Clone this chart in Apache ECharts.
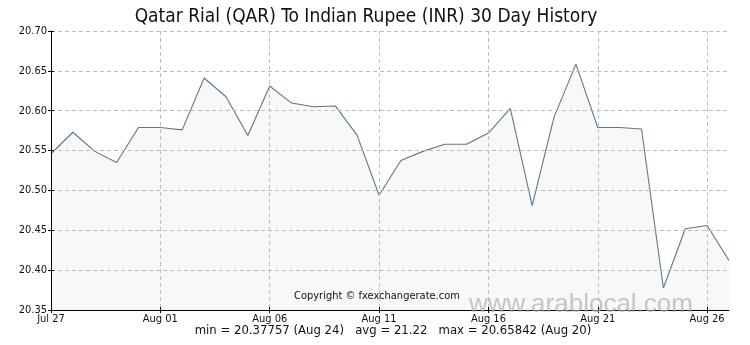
<!DOCTYPE html>
<html>
<head>
<meta charset="utf-8">
<script src="https://cdn.jsdelivr.net/npm/echarts@6/dist/echarts.min.js"></script>
<style>
  html, body { margin: 0; padding: 0; background: #ffffff; }
  #chart { width: 750px; height: 345px; }
</style>
</head>
<body>
<div id="chart"></div>
<script>
// Daily QAR -> INR rate, Jul 27 to Aug 27
const dates = [
  'Jul27','Jul28','Jul29','Jul30','Jul31',
  'Aug01','Aug02','Aug03','Aug04','Aug05',
  'Aug06','Aug07','Aug08','Aug09','Aug10',
  'Aug11','Aug12','Aug13','Aug14','Aug15',
  'Aug16','Aug17','Aug18','Aug19','Aug20',
  'Aug21','Aug22','Aug23','Aug24','Aug25',
  'Aug26','Aug27'
];
const rates = [
  20.546, 20.573, 20.549, 20.535, 20.579,
  20.579, 20.576, 20.641, 20.6175, 20.569,
  20.631, 20.6096, 20.605, 20.606, 20.569,
  20.494, 20.5375, 20.549, 20.558, 20.558,
  20.572, 20.603, 20.481, 20.592, 20.65842,
  20.579, 20.579, 20.577, 20.37757, 20.452,
  20.456, 20.412
];
// x labels shown every 5 days, written as on the axis
const xTickLabels = ['Jul 27','Aug 01','Aug 06','Aug 11','Aug 16','Aug 21','Aug 26'];

const titleText = 'Qatar Rial (QAR) To Indian Rupee (INR) 30 Day History';
const statsText = 'min = 20.37757 (Aug 24)   avg = 21.22   max = 20.65842 (Aug 20)';
const copyrightText = 'Copyright \u00A9 fxexchangerate.com';
const watermarkText = 'www.arablocal.com';

const yMin = 20.35, yMax = 20.70, yStep = 0.05;
const narrow = '"DejaVu Sans Condensed", "Liberation Sans Narrow", Arial, sans-serif';

const chart = echarts.init(document.getElementById('chart'), null, { renderer: 'canvas' });

const gridDash = { color: '#bdbdbd', type: [4, 3], width: 1 };

const baseX = {
  type: 'category',
  data: dates,
  boundaryGap: false
};
const baseY = {
  type: 'value',
  min: yMin,
  max: yMax,
  interval: yStep
};

chart.setOption({
  animation: false,
  backgroundColor: '#ffffff',
  title: {
    text: titleText,
    left: 361,
    top: 3,
    textAlign: 'center',
    textStyle: { fontFamily: narrow, fontSize: 19, fontWeight: 'normal', color: '#111' }
  },
  grid: { left: 51, right: 21, top: 31, bottom: 35, containLabel: false },
  xAxis: [
    Object.assign({}, baseX, {
      z: 5,
      axisLine: { show: true, lineStyle: { color: '#000', width: 1 } },
      axisTick: { show: true, interval: 4, length: 3, lineStyle: { color: '#000' } },
      axisLabel: {
        interval: 4,
        margin: 4,
        fontFamily: narrow, fontSize: 11, color: '#111',
        formatter: (v, i) => xTickLabels[i / 5] || ''
      },
      splitLine: { show: true, interval: 4, lineStyle: gridDash }
    }),
    Object.assign({}, baseX, {
      position: 'bottom',
      z: 5,
      axisLine: { show: false },
      axisTick: { show: true, inside: true, interval: 4, length: 3, lineStyle: { color: '#000' } },
      axisLabel: { show: false },
      splitLine: { show: false }
    })
  ],
  yAxis: [
    Object.assign({}, baseY, {
      z: 5,
      axisLine: { show: true, lineStyle: { color: '#000', width: 1 } },
      axisTick: { show: true, length: 3, lineStyle: { color: '#000' } },
      axisLabel: {
        margin: 4,
        fontFamily: narrow, fontSize: 11, color: '#111',
        formatter: v => v.toFixed(2)
      },
      splitLine: { show: true, lineStyle: gridDash }
    }),
    Object.assign({}, baseY, {
      position: 'left',
      z: 5,
      axisLine: { show: false },
      axisTick: { show: true, inside: true, length: 3, lineStyle: { color: '#000' } },
      axisLabel: { show: false },
      splitLine: { show: false }
    })
  ],
  series: [{
    type: 'line',
    data: rates,
    xAxisIndex: 0,
    yAxisIndex: 0,
    symbol: 'none',
    smooth: false,
    lineStyle: { color: '#57798f', width: 1.1 },
    areaStyle: { color: '#f8f8f8', opacity: 1, origin: 'start' },
    z: 3
  }],
  graphic: [
    {
      type: 'text',
      x: 294, y: 291, z: 100,
      style: { text: copyrightText, font: '11px ' + narrow, fill: '#111' }
    },
    {
      type: 'text',
      x: 469, y: 292, z: 90,
      style: { text: watermarkText, font: '26px Arial, "Liberation Sans", sans-serif', fill: 'rgba(175,175,175,0.7)' }
    },
    {
      type: 'text',
      x: 393, y: 324, z: 100,
      style: { text: statsText, font: '13px ' + narrow, fill: '#111', align: 'center' }
    }
  ]
});
</script>
</body>
</html>
